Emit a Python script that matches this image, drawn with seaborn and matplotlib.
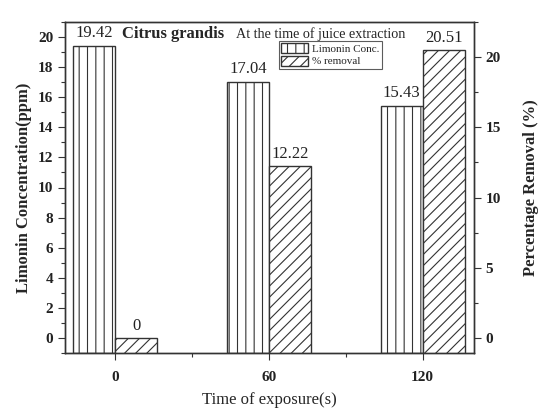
import matplotlib
matplotlib.use("Agg")
import matplotlib.pyplot as plt
import seaborn as sns
import numpy as np
from matplotlib.patches import Patch
from matplotlib.ticker import MultipleLocator

sns.set_theme(style="ticks")
plt.rcParams['font.family'] = ['Liberation Serif', 'DejaVu Serif']
plt.rcParams['hatch.linewidth'] = 0.8
plt.rcParams['hatch.color'] = '#333333'

times = [0, 60, 120]
time_labels = ['0', '60', '120']
limonin = [19.42, 17.04, 15.43]
removal = [0, 12.22, 20.51]
limonin_labels = ['19.42', '17.04', '15.43']
removal_labels = ['0', '12.22', '20.51']

fig = plt.figure(figsize=(5.46, 4.08), dpi=100)
ax = fig.add_axes([65/546, 1-353/408, (474-65)/546, (353-22)/408])
ax2 = ax.twinx()

bw = 16.4
ylo1, yhi1 = -1.0, 21.0
ylo2, yhi2 = -1.07, 22.5
edge = '#333333'

x = np.array(times, dtype=float)
ax.bar(x - bw/2, np.array(limonin) - ylo1, bottom=ylo1, width=bw, color='white',
       edgecolor=edge, hatch='||', linewidth=1.0, zorder=2)
ax2.bar(x + bw/2, np.array(removal) - ylo2, bottom=ylo2, width=bw, color='white',
        edgecolor=edge, hatch='///', linewidth=1.0, zorder=2)

for xi, v, lab in zip(x, limonin, limonin_labels):
    ax.text(xi - bw/2, v + 0.3, lab, ha='center', va='bottom', fontsize=12, color='#222222')
for xi, v, lab in zip(x, removal, removal_labels):
    ax2.text(xi + bw/2, v + 0.3, lab, ha='center', va='bottom', fontsize=12, color='#222222')

ax.set_xlim(-19.5, 140)
ax.set_ylim(ylo1, yhi1)
ax2.set_ylim(ylo2, yhi2)

ax.set_xticks(times)
ax.set_xticklabels(time_labels, fontweight='bold', fontsize=11)
ax.xaxis.set_minor_locator(MultipleLocator(30))
ax.yaxis.set_major_locator(MultipleLocator(2))
ax.yaxis.set_minor_locator(MultipleLocator(1))
ax2.yaxis.set_major_locator(MultipleLocator(5))
ax2.yaxis.set_minor_locator(MultipleLocator(2.5))
for lab in ax.get_yticklabels() + ax2.get_yticklabels():
    lab.set_fontweight('bold')
    lab.set_fontsize(11)

for a in (ax, ax2):
    a.tick_params(which='major', direction='out', length=5, width=0.8, colors='#333333', labelcolor='#222222')
    a.tick_params(which='minor', direction='out', length=3, width=0.8, colors='#333333')
    for s in a.spines.values():
        s.set_visible(True)
        s.set_color('#333333')
        s.set_linewidth(1.0)
ax2.tick_params(axis='y', which='both', left=False, right=True)
ax.tick_params(axis='x', which='major', pad=8)

ax.set_xlabel('Time of exposure(s)', fontsize=12, labelpad=6)
ax.set_ylabel('Limonin Concentration(ppm)', fontsize=12, fontweight='bold', labelpad=4)
ax2.set_ylabel('Percentage Removal (%)', fontsize=12, fontweight='bold', labelpad=16)

ax.text(2.7, 20.2, 'Citrus grandis', fontsize=12, fontweight='bold', va='center', ha='left')
ax.text(47.2, 20.2, 'At the time of juice extraction', fontsize=10.2, va='center', ha='left')

handles = [Patch(facecolor='white', edgecolor=edge, hatch='||', label='Limonin Conc.'),
           Patch(facecolor='white', edgecolor=edge, hatch='///', label='% removal')]
leg = ax.legend(handles=handles, loc='upper left', bbox_to_anchor=((279-65)/409, (353-41)/331),
                fontsize=8, frameon=True, fancybox=False, edgecolor='#333333',
                handlelength=2.4, handleheight=1.0, borderpad=0.2, labelspacing=0.15,
                handletextpad=0.4, borderaxespad=0)
leg.get_frame().set_linewidth(0.8)

fig.savefig('out.png', dpi=100)
